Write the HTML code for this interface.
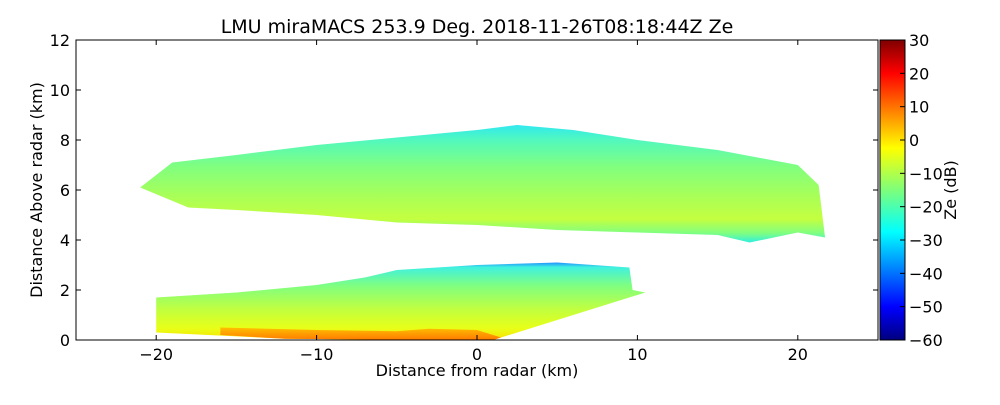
<!DOCTYPE html>
<html><head><meta charset="utf-8"><style>
body{margin:0;background:#fff;font-family:"Liberation Sans","DejaVu Sans",sans-serif}
svg text{font-family:"DejaVu Sans","Liberation Sans",sans-serif;fill:#000}
</style></head><body>
<svg id="c" width="1000" height="400">
<defs>
<linearGradient id="jet" x1="0" y1="1" x2="0" y2="0">
<stop offset="0" stop-color="#00007f"/><stop offset="0.11" stop-color="#0000ff"/><stop offset="0.36" stop-color="#00ffff"/><stop offset="0.5" stop-color="#7dff7a"/><stop offset="0.64" stop-color="#ffff00"/><stop offset="0.89" stop-color="#ff0000"/><stop offset="1" stop-color="#7f0000"/>
</linearGradient>
<linearGradient id="upper" x1="0" y1="0" x2="0" y2="1">
<stop offset="0" stop-color="#30e8f0"/><stop offset="0.12" stop-color="#50f8c0"/><stop offset="0.35" stop-color="#80ff80"/><stop offset="0.6" stop-color="#a8ff58"/><stop offset="0.8" stop-color="#c4ff40"/><stop offset="0.92" stop-color="#80ff80"/><stop offset="1" stop-color="#30f0e0"/>
</linearGradient>
<linearGradient id="lower" x1="0" y1="0" x2="0" y2="1">
<stop offset="0" stop-color="#2090ff"/><stop offset="0.06" stop-color="#40f0e0"/><stop offset="0.3" stop-color="#80ff80"/><stop offset="0.6" stop-color="#c0ff40"/><stop offset="0.85" stop-color="#e8ff18"/><stop offset="1" stop-color="#f8e000"/>
</linearGradient>
<linearGradient id="orange" x1="0" y1="0" x2="0" y2="1">
<stop offset="0" stop-color="#ffc000"/><stop offset="1" stop-color="#ff7a00"/>
</linearGradient>
</defs>
</svg>
<script>
const xTicks=[-20,-10,0,10,20];
const yTicks=[0,2,4,6,8,10,12];
const cTicks=[-60,-50,-40,-30,-20,-10,0,10,20,30];
const upperX=[-21,-19,-15,-10,-5,0,2.5,6,10,15,20,21.3,21.7,20,17,15,10,5,0,-5,-10,-15,-18,-21];
const upperY=[6.1,7.1,7.4,7.8,8.1,8.4,8.6,8.4,8.0,7.6,7.0,6.2,4.1,4.3,3.9,4.2,4.3,4.4,4.6,4.7,5.0,5.2,5.3,6.1];
const lowerX=[-20,-15,-10,-7,-5,0,5,9.5,9.7,10.5,1,-3,-12,-20];
const lowerY=[1.7,1.9,2.2,2.5,2.8,3.0,3.1,2.9,2.0,1.9,0,0,0.05,0.3];
const hotX=[-16,-10,-5,-3,0,1.5,1,-3,-12,-16];
const hotY=[0.5,0.4,0.35,0.45,0.4,0.1,0,0,0.05,0.2];
const svg=document.getElementById('c');const NS='http://www.w3.org/2000/svg';
const L=76,R=878,T=40,B=340;
const sx=v=>L+(v+25)/50*(R-L), sy=v=>B-v/12*(B-T);
const cy=v=>B-(v+60)/90*(B-T);
function mk(t,a,p){const e=document.createElementNS(NS,t);for(const k in a)e.setAttribute(k,a[k]);(p||svg).appendChild(e);return e;}
function poly(xs,ys,fill,name){const e=mk('polygon',{points:xs.map((x,i)=>sx(x)+','+sy(ys[i])).join(' '),fill:fill});

}
poly(upperX,upperY,'url(#upper)','upper-cloud');
poly(lowerX,lowerY,'url(#lower)','lower-cloud');
poly(hotX,hotY,'url(#orange)','lower-cloud-core');
const fr=mk('rect',{x:L,y:T,width:R-L,height:B-T,fill:'none',stroke:'#000','stroke-width':1});


xTicks.forEach(v=>{mk('line',{x1:sx(v),x2:sx(v),y1:B,y2:B-5,stroke:'#000'});mk('line',{x1:sx(v),x2:sx(v),y1:T,y2:T+5,stroke:'#000'});
const t=mk('text',{x:sx(v),y:B+20,'text-anchor':'middle','font-size':16});t.textContent=(v<0?'−':'')+Math.abs(v);

});
yTicks.forEach(v=>{mk('line',{x1:L,x2:L+5,y1:sy(v),y2:sy(v),stroke:'#000'});mk('line',{x1:R,x2:R-5,y1:sy(v),y2:sy(v),stroke:'#000'});
const t=mk('text',{x:L-6,y:sy(v)+6,'text-anchor':'end','font-size':16});t.textContent=v;

});
const cb=mk('rect',{x:880,y:T,width:25,height:B-T,fill:'url(#jet)',stroke:'#000'});


cTicks.forEach(v=>{mk('line',{x1:900,x2:905,y1:cy(v),y2:cy(v),stroke:'#000'});
const t=mk('text',{x:909,y:cy(v)+6,'font-size':16});t.textContent=(v<0?'−':'')+Math.abs(v);

});
function lab(txt,a,name){const t=mk('text',a);t.textContent=txt;

}
lab('LMU miraMACS 253.9 Deg. 2018-11-26T08:18:44Z  Ze',{x:477,y:33,'text-anchor':'middle','font-size':19,'xml:space':'preserve'},'chart-title');
lab('Distance from radar (km)',{x:477,y:376,'text-anchor':'middle','font-size':16},'x-axis-title');
lab('Distance Above radar  (km)',{x:42,y:190,'text-anchor':'middle','font-size':16,transform:'rotate(-90 42 190)','xml:space':'preserve'},'y-axis-title');
lab('Ze (dB)',{x:956,y:190,'text-anchor':'middle','font-size':16,transform:'rotate(-90 956 190)'},'colorbar-title');
</script>
</body></html>
